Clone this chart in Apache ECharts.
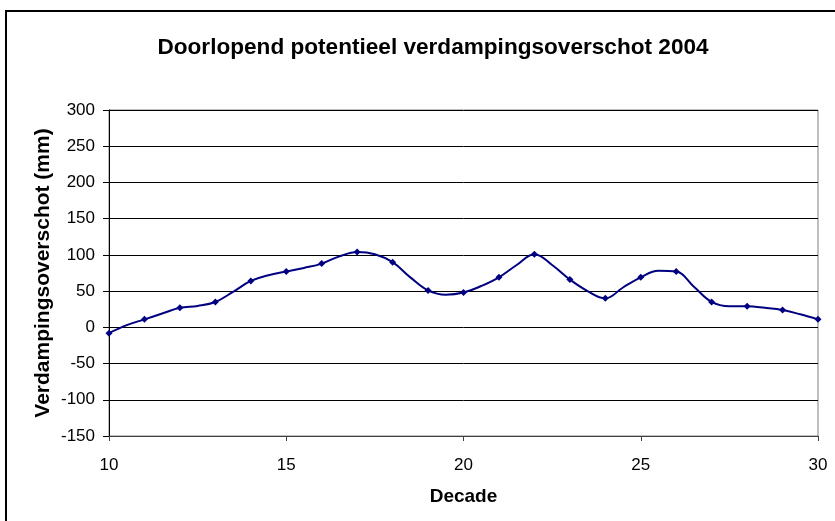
<!DOCTYPE html>
<html>
<head>
<meta charset="utf-8">
<script src="https://cdn.jsdelivr.net/npm/echarts@6/dist/echarts.min.js"></script>
<style>html,body{margin:0;padding:0;background:#fff}#c{width:835px;height:521px}</style>
</head>
<body>
<div id="c"></div>
<script>
const titleText = 'Doorlopend potentieel verdampingsoverschot 2004';
const xAxisName = 'Decade';
const yAxisName = 'Verdampingsoverschot (mm)';
const decades = [10,10.5,11,11.5,12,12.5,13,13.5,14,14.5,15,15.5,16,16.5,17,17.5,18,18.5,19,19.5,20,20.5,21,21.5,22,22.5,23,23.5,24,24.5,25,25.5,26,26.5,27,27.5,28,28.5,29,29.5,30];
const overschot = [-8,3,11,19,27,29.5,35,49,64,72,77,82,88,98,104,101,90,69,51,45,48,57,69,86,101,86,66,50,40,55,69,78,77,56,35,29,29,27,24,18,11];
const yMin = -150, yMax = 300, yStep = 50;
const xMin = 10, xMax = 30, xStep = 5;

const chart = echarts.init(document.getElementById('c'), null, {renderer: 'canvas'});
const font = 'Arial, "Liberation Sans", sans-serif';
chart.setOption({
  animation: false,
  backgroundColor: '#ffffff',
  title: {
    text: titleText, left: 428, top: 31, textAlign: 'center',
    textStyle: {fontFamily: font, fontSize: 22.6, fontWeight: 'bold', color: '#000'}
  },
  graphic: [{
    type: 'rect', shape: {x: 6, y: 11, width: 900, height: 600},
    style: {fill: 'none', stroke: '#000', lineWidth: 2}, silent: true, z: 100
  }],
  grid: {left: 109, top: 110, right: 17, bottom: 85, show: true, borderColor: '#808080', borderWidth: 1},
  xAxis: {
    type: 'value', min: xMin, max: xMax, interval: xStep,
    name: xAxisName, nameLocation: 'middle', nameGap: 51,
    nameTextStyle: {fontFamily: font, fontSize: 19, fontWeight: 'bold', color: '#000'},
    axisLine: {show: true, onZero: false, lineStyle: {color: '#404040', width: 1}},
    axisTick: {show: true, inside: false, length: 5, lineStyle: {color: '#404040'}},
    axisLabel: {fontFamily: font, fontSize: 17, color: '#000', margin: 21},
    splitLine: {show: false}
  },
  yAxis: {
    type: 'value', min: yMin, max: yMax, interval: yStep,
    name: yAxisName, nameLocation: 'middle', nameGap: 55, nameRotate: 90,
    nameMoveOverlap: false,
    nameTextStyle: {fontFamily: font, fontSize: 21, fontWeight: 'bold', color: '#000'},
    axisLine: {show: true, onZero: false, lineStyle: {color: '#000', width: 1}},
    axisTick: {show: true, inside: false, length: 6, lineStyle: {color: '#000'}},
    axisLabel: {fontFamily: font, fontSize: 17, color: '#000', margin: 14},
    splitLine: {show: true, lineStyle: {color: '#000', width: 1}}
  },
  series: [{
    type: 'line',
    data: decades.map((d, i) => [d, overschot[i]]),
    smooth: 0.4,
    symbol: (v) => Number.isInteger(v[0]) ? 'diamond' : 'none',
    symbolSize: 7,
    showAllSymbol: true,
    lineStyle: {color: '#000080', width: 2},
    itemStyle: {color: '#000080'}
  }]
});
</script>
</body>
</html>
